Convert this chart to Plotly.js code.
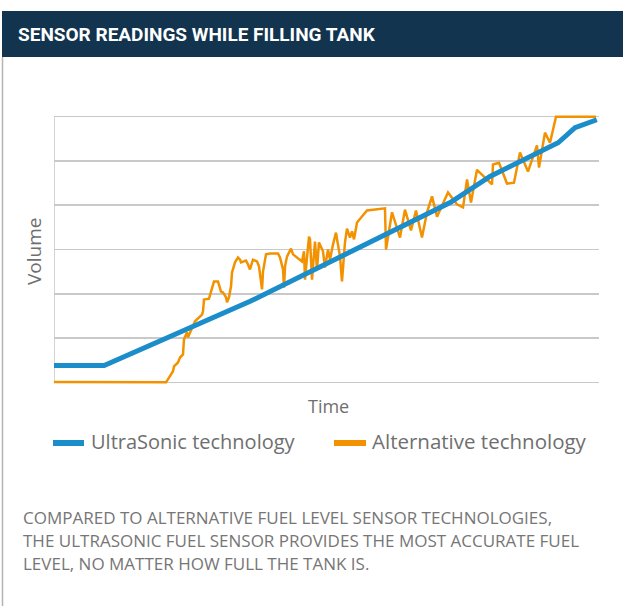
<!DOCTYPE html>
<html>
<head>
<meta charset="utf-8">
<script src="https://cdn.plot.ly/plotly-3.0.1.min.js"></script>
<style>
  html, body { margin: 0; padding: 0; background: #ffffff; }
  #chart { width: 623px; height: 606px; }
</style>
</head>
<body>
<div id="chart"></div>
<script>
// ---- Data (time on 0..100 scale, volume on 0..6 scale) ----
const ultraTime = [0, 9.2, 36.0, 72.7, 80.0, 92.5, 95.6, 99.6];
const ultraVolume = [0.38, 0.38, 1.83, 4.06, 4.65, 5.41, 5.75, 5.93];

const altTime = [0, 20.55, 21.28, 21.83, 22.02, 22.75, 23.12, 23.67, 23.85, 24.40, 24.59, 24.95, 25.32, 25.87,
  27.16, 27.34, 27.52, 28.44, 29.36, 30.09, 30.64, 31.01, 31.56, 31.74, 32.11, 32.48, 32.66, 33.21, 33.76, 34.13,
  34.31, 34.68, 35.23, 35.60, 35.96, 36.51, 37.25, 37.61, 38.17, 38.35, 38.90, 39.63, 41.10, 41.47, 42.02, 42.20,
  42.39, 42.75, 43.49, 43.85, 45.14, 45.50, 45.87, 46.06, 46.42, 46.79, 46.97, 47.34, 47.52, 47.89, 48.26, 48.62,
  49.36, 49.72, 50.28, 50.64, 51.19, 51.74, 52.48, 52.84, 53.39, 53.76, 54.31, 54.68, 55.05, 55.60, 57.43, 60.73,
  60.92, 62.02, 63.49, 64.40, 65.50, 66.42, 67.52, 68.44, 69.36, 70.28, 72.29, 73.94, 75.05, 75.78, 76.51, 77.61,
  80.37, 80.55, 81.65, 83.12, 84.40, 85.50, 86.97, 88.62, 88.99, 90.09, 91.01, 92.11, 99.45];
const altVolume = [0.01, 0.0, 0.14, 0.25, 0.36, 0.45, 0.56, 0.63, 0.97, 1.13, 1.02, 1.13, 1.24, 1.38,
  1.53, 1.60, 1.87, 1.89, 2.28, 2.28, 2.05, 2.03, 1.92, 1.81, 1.92, 2.17, 2.48, 2.71, 2.82, 2.77,
  2.71, 2.73, 2.75, 2.66, 2.55, 2.77, 2.73, 2.62, 2.10, 2.50, 2.89, 2.91, 2.91, 2.82, 2.55, 2.14,
  2.62, 2.84, 3.02, 2.89, 2.77, 2.73, 2.96, 2.32, 2.82, 3.29, 3.23, 2.32, 2.62, 3.18, 2.55, 3.16,
  2.96, 2.59, 3.00, 2.77, 3.11, 3.38, 2.84, 2.28, 3.16, 3.47, 3.27, 3.41, 3.23, 3.61, 3.88, 3.93,
  3.00, 3.84, 3.27, 3.90, 3.43, 3.88, 3.27, 3.84, 4.20, 3.74, 4.29, 4.02, 3.95, 4.58, 4.06, 4.80,
  4.47, 4.92, 4.96, 4.49, 4.51, 5.19, 4.76, 5.35, 4.85, 5.64, 5.41, 6.00, 6.00];

const seriesNames = ["UltraSonic technology", "Alternative technology"];
const seriesColors = ["#1a8dca", "#f39200"];
const chartTitle = "SENSOR READINGS WHILE FILLING TANK";
const xTitle = "Time";
const yTitle = "Volume";
const noteLines = [
  "COMPARED TO ALTERNATIVE FUEL LEVEL SENSOR TECHNOLOGIES,",
  "THE ULTRASONIC FUEL SENSOR PROVIDES THE MOST ACCURATE FUEL",
  "LEVEL, NO MATTER HOW FULL THE TANK IS."
];

// ---- Layout helpers (pixel -> paper) ----
const M = { l: 54, r: 24, t: 114, b: 221 };
const W = 623, H = 606;
const PW = W - M.l - M.r, PH = H - M.t - M.b;
const px = x => (x - M.l) / PW;
const py = y => (H - M.b - y) / PH;

const textGray = "#6f6f6f";
const mainFont = "'Open Sans', Roboto, sans-serif";

const traces = [
  {
    x: altTime, y: altVolume, type: "scatter", mode: "lines", name: seriesNames[1],
    line: { color: seriesColors[1], width: 2.5 }, showlegend: false, hoverinfo: "skip"
  },
  {
    x: ultraTime, y: ultraVolume, type: "scatter", mode: "lines", name: seriesNames[0],
    line: { color: seriesColors[0], width: 5 }, showlegend: false, hoverinfo: "skip"
  }
];

const shapes = [
  // header band
  { type: "rect", xref: "paper", yref: "paper", x0: px(2), x1: px(623), y0: py(57), y1: py(11),
    fillcolor: "#12344f", line: { width: 0 }, layer: "below" },
  // left frame line
  { type: "line", xref: "paper", yref: "paper", x0: px(2.5), x1: px(2.5), y0: py(57), y1: py(606),
    line: { color: "#b4b4b4", width: 1.5 } },
  // legend swatches
  { type: "line", xref: "paper", yref: "paper", x0: px(53), x1: px(84), y0: py(443), y1: py(443),
    line: { color: seriesColors[0], width: 6 } },
  { type: "line", xref: "paper", yref: "paper", x0: px(334), x1: px(366), y0: py(443), y1: py(443),
    line: { color: seriesColors[1], width: 6 } },
  // vertical axis line at time 0 spanning the gridded range
  { type: "line", xref: "x", yref: "y", x0: 0, x1: 0, y0: 0, y1: 6,
    line: { color: "#c9c9c9", width: 1.6 }, layer: "below" }
];

const annotations = [
  { text: "<b>" + chartTitle + "</b>", xref: "paper", yref: "paper", x: px(16), y: py(34),
    xanchor: "left", yanchor: "middle", showarrow: false,
    font: { family: "Roboto, sans-serif", size: 19, color: "#ffffff" } },
  { text: xTitle, xref: "paper", yref: "paper", x: px(328), y: py(406),
    xanchor: "center", yanchor: "middle", showarrow: false,
    font: { family: mainFont, size: 18, color: textGray } },
  { text: yTitle, xref: "paper", yref: "paper", x: px(34), y: py(252), textangle: -90,
    xanchor: "center", yanchor: "middle", showarrow: false,
    font: { family: mainFont, size: 19, color: textGray } },
  { text: seriesNames[0], xref: "paper", yref: "paper", x: px(89), y: py(441),
    xanchor: "left", yanchor: "middle", showarrow: false,
    font: { family: mainFont, size: 20, color: textGray } },
  { text: seriesNames[1], xref: "paper", yref: "paper", x: px(370), y: py(441),
    xanchor: "left", yanchor: "middle", showarrow: false,
    font: { family: mainFont, size: 20.5, color: textGray } }
];
const noteY = [517, 540, 563];
noteLines.forEach((t, i) => {
  annotations.push({ text: t, xref: "paper", yref: "paper", x: px(21), y: py(noteY[i]),
    xanchor: "left", yanchor: "middle", showarrow: false,
    font: { family: mainFont, size: 17, color: "#767676" } });
});

const layout = {
  width: W, height: H,
  margin: M,
  paper_bgcolor: "#ffffff", plot_bgcolor: "#ffffff",
  showlegend: false,
  xaxis: { range: [0, 100], showgrid: false, zeroline: false, showticklabels: false,
    ticks: "", showline: false, fixedrange: true },
  yaxis: { range: [-0.06, 6.06], dtick: 1, tick0: 0, showgrid: true, gridcolor: "#c9c9c9", gridwidth: 1.6,
    zeroline: false, showticklabels: false, ticks: "", showline: false, fixedrange: true },
  shapes: shapes,
  annotations: annotations
};

Plotly.newPlot("chart", traces, layout, { displayModeBar: false, staticPlot: true });
</script>
</body>
</html>
